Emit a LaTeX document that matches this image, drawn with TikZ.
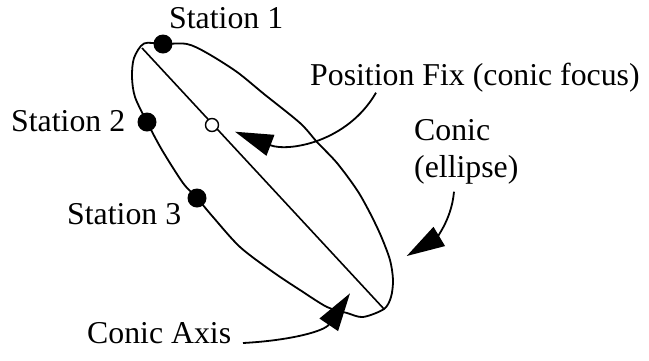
\documentclass[tikz,border=0pt]{standalone}
\usepackage{fontspec}
\setmainfont{Liberation Serif}
\usetikzlibrary{arrows.meta}
\begin{document}
\begin{tikzpicture}[x=1pt,y=1pt,
  every node/.style={font=\fontsize{31.8}{37}\selectfont},
  lbl/.style={anchor=base west, inner sep=0pt},
  station/.style={circle, fill=black, draw=none, minimum size=19pt, inner sep=0pt},
  focus/.style={circle, draw=black, fill=white, line width=1.4pt, minimum size=13pt, inner sep=0pt},
  curve/.style={line width=1.8pt},
  pointer/.style={line width=1.8pt, -{Triangle[length=38pt,width=22pt]}}]
\useasboundingbox (0,0) rectangle (649,-360);
% conic (hand-drawn ellipse)
\draw[curve, line join=round] plot[smooth cycle, tension=0.5] coordinates {
 (144,-43.5) (163,-44) (187,-44) (207,-53) (237,-72) (264,-94) (300,-123)
 (317,-142) (337,-163) (357,-190) (370,-213) (381,-236) (390,-260) (393,-280)
 (391,-297) (384,-309) (363,-317) (347,-313) (327,-307) (300,-290) (273,-272)
 (240,-247) (213,-217) (197,-198) (183,-183) (162,-150) (147,-122) (135,-97)
 (132,-77) (134,-58)};
% conic axis
\coordinate (a1) at (142,-48);
\coordinate (a2) at (384,-309);
\draw[line width=1.6pt] (a1) -- (a2);
% stations and focus
\node[station] (s1) at (163,-44) {};
\node[station] (s2) at (147,-122) {};
\node[station] (s3) at (197,-198) {};
\node[focus] (f) at (212,-125) {};
% labels
\node[lbl] (t1) at (169,-28) {Station 1};
\node[lbl] (t2) at (11,-131.5) {Station 2};
\node[lbl] (t3) at (67,-224) {Station 3};
\node[lbl] (tp) at (310,-85) {Position Fix (conic focus)};
\node[lbl] (tc) at (414,-140) {\begin{tabular}[t]{@{}l@{}}Conic\\(ellipse)\end{tabular}};
\node[lbl] (ta) at (87,-343) {Conic Axis};
% pointers
\coordinate (p1s) at (376,-92.7);
\coordinate (p1e) at (235,-131.7);
\draw[pointer] (p1s) to[out=-120, in=-21] (p1e);
\coordinate (p2s) at (454,-191.7);
\coordinate (p2e) at (406.7,-256);
\draw[pointer] (p2s) to[out=-95, in=31] (p2e);
\coordinate (p3s) at (243,-343);
\coordinate (p3e) at (350,-293.3);
\draw[pointer] (p3s) to[out=3, in=-124] (p3e);
\end{tikzpicture}
\end{document}
